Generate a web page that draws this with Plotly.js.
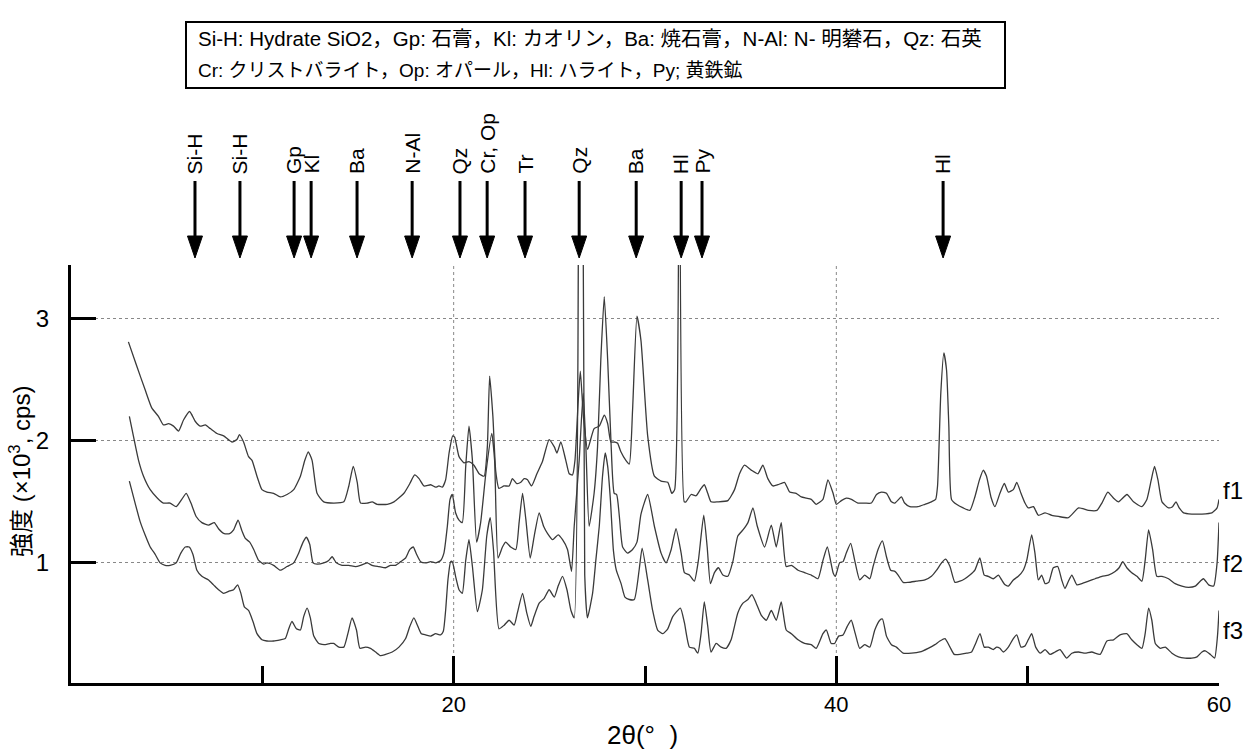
<!DOCTYPE html>
<html><head><meta charset="utf-8">
<script src="https://cdn.plot.ly/plotly-3.0.1.min.js"></script>
<style>html,body{margin:0;padding:0;background:#fff;} #chart{width:1258px;height:751px;}</style>
</head><body><div id="chart"></div>
<script>
// ---- data: [2θ, intensity (×10^3 cps)] ----
const f1 = [[3.0,2.81],[3.44,2.61],[3.87,2.42],[4.22,2.27],[4.57,2.20],[4.83,2.13],[5.10,2.14],[5.36,2.12],[5.62,2.08],[5.88,2.17],[6.20,2.24],[6.49,2.16],[6.75,2.12],[7.02,2.13],[7.28,2.10],[7.63,2.06],[7.98,2.04],[8.41,1.99],[8.67,2.01],[8.80,2.05],[9.02,1.99],[9.28,1.87],[9.46,1.84],[9.72,1.71],[9.98,1.60],
[10.24,1.58],[10.59,1.57],[10.94,1.54],[11.29,1.56],[11.64,1.60],[11.99,1.71],[12.22,1.84],[12.40,1.91],[12.60,1.84],[12.86,1.57],[13.21,1.50],[13.74,1.49],[14.26,1.50],[14.52,1.63],[14.75,1.79],[14.96,1.66],[15.13,1.49],[15.48,1.49],[15.74,1.50],[16.00,1.48],[16.53,1.48],[16.88,1.50],[17.40,1.57],[17.71,1.65],[17.96,1.72],[18.19,1.69],[18.45,1.63],[18.80,1.64],[19.06,1.62],[19.23,1.63],[19.41,1.62],[19.58,1.68],[19.76,1.90],[19.95,2.04],
[20.05,2.03],[20.28,1.87],[20.54,1.82],[20.80,1.83],[21.06,1.80],[21.33,1.73],[21.59,1.71],[21.76,1.95],[21.88,2.53],[22.05,2.20],[22.20,1.75],[22.37,1.61],[22.63,1.63],[22.90,1.63],[23.07,1.69],[23.30,1.65],[23.51,1.66],[23.68,1.69],[23.86,1.68],[24.07,1.63],[24.35,1.73],[24.64,1.83],[24.99,2.01],[25.26,1.95],[25.40,1.90],[25.60,1.99],[25.86,1.84],[26.04,1.73],[26.21,1.72],[26.34,1.84],[26.50,2.30],[26.62,2.57],[26.78,2.20],[27.00,1.93],[27.34,2.10],[27.61,2.12],[27.87,2.21],[28.05,2.14],[28.22,1.99],[28.43,1.99],[28.57,1.98],[28.74,1.91],[29.00,1.84],[29.18,1.81],[29.35,2.25],[29.58,3.02],[29.79,2.82],
[30.14,2.04],[30.49,1.71],[30.84,1.67],[31.19,1.66],[31.40,1.57],[31.55,1.60],[31.80,12.0],[32.05,1.50],[32.14,1.50],[32.41,1.56],[32.67,1.55],[32.93,1.61],[33.10,1.64],[33.28,1.57],[33.45,1.50],[33.80,1.50],[34.33,1.51],[34.68,1.60],[34.94,1.73],[35.20,1.80],[35.55,1.76],[35.90,1.73],[36.16,1.80],[36.42,1.69],[36.69,1.63],[36.95,1.64],[37.29,1.66],[37.56,1.58],[37.90,1.57],[38.17,1.54],[38.43,1.53],[38.69,1.52],[38.95,1.48],[39.30,1.52],[39.56,1.68],[39.83,1.57],
[40.00,1.48],[40.26,1.51],[40.52,1.53],[40.79,1.52],[41.13,1.49],[41.48,1.49],[41.83,1.49],[42.10,1.56],[42.36,1.58],[42.62,1.57],[42.88,1.50],[43.06,1.49],[43.40,1.54],[43.57,1.49],[43.84,1.46],[44.27,1.46],[44.63,1.48],[44.97,1.50],[45.19,1.52],[45.29,1.63],[45.46,2.39],[45.62,2.72],[45.76,2.58],[45.88,2.12],[46.02,1.52],[46.28,1.48],[46.63,1.45],[46.98,1.43],[47.24,1.54],[47.48,1.68],[47.68,1.76],[47.85,1.71],[48.08,1.54],[48.29,1.46],[48.55,1.57],[48.78,1.65],[48.99,1.58],[49.25,1.60],[49.43,1.66],[49.65,1.57],[49.86,1.49],
[50.03,1.45],[50.30,1.46],[50.56,1.39],[50.91,1.41],[51.26,1.39],[51.61,1.38],[52.13,1.37],[52.66,1.45],[53.18,1.43],[53.62,1.43],[53.88,1.49],[54.19,1.58],[54.49,1.53],[54.75,1.50],[55.19,1.56],[55.53,1.50],[55.97,1.46],[56.23,1.52],[56.46,1.68],[56.63,1.79],[56.81,1.68],[57.02,1.50],[57.36,1.45],[57.57,1.46],[57.75,1.50],[57.92,1.45],[58.15,1.41],[58.58,1.40],[59.11,1.40],[59.63,1.41],[59.90,1.45],[60.00,1.52]];

const f2 = [[3.05,2.20],[3.26,2.04],[3.53,1.84],[3.79,1.71],[4.14,1.60],[4.52,1.53],[4.83,1.49],[5.18,1.49],[5.50,1.46],[5.79,1.52],[6.02,1.57],[6.27,1.49],[6.54,1.38],[6.84,1.33],[7.19,1.31],[7.49,1.33],[7.71,1.28],[8.01,1.24],[8.29,1.24],[8.50,1.27],[8.73,1.35],[8.94,1.26],[9.11,1.20],[9.34,1.17],[9.55,1.11],[9.81,1.02],
[10.07,0.99],[10.24,1.00],[10.59,0.98],[10.94,0.94],[11.29,0.97],[11.64,1.00],[11.90,1.08],[12.13,1.17],[12.30,1.21],[12.48,1.15],[12.65,1.00],[12.86,0.99],[13.21,1.00],[13.47,1.02],[13.65,1.05],[13.87,1.00],[14.17,0.98],[14.52,0.98],[14.87,0.97],[15.13,0.98],[15.48,1.00],[15.74,0.98],[16.09,0.97],[16.44,0.96],[16.70,0.98],[16.96,0.98],[17.23,1.01],[17.49,1.04],[17.71,1.11],[17.89,1.13],[18.06,1.07],[18.27,1.01],[18.53,1.00],[18.80,1.01],[19.06,1.00],[19.32,1.02],[19.49,1.08],[19.67,1.30],[19.81,1.52],[19.93,1.56],
[20.10,1.41],[20.28,1.35],[20.45,1.33],[20.63,1.79],[20.80,2.12],[20.98,1.84],[21.20,1.17],[21.41,1.33],[21.68,1.73],[21.99,2.06],[22.14,1.84],[22.32,1.04],[22.55,1.13],[22.72,1.17],[22.98,1.13],[23.25,1.11],[23.42,1.33],[23.60,1.57],[23.77,1.36],[24.00,1.04],[24.21,1.22],[24.47,1.41],[24.70,1.30],[24.91,1.24],[25.17,1.19],[25.46,1.23],[25.69,1.19],[25.95,1.11],[26.16,0.93],[26.30,1.30],[26.56,1.84],[26.77,2.39],[26.91,1.95],[27.08,1.30],[27.34,1.57],[27.52,1.95],[27.69,2.66],[27.87,3.18],[28.05,2.66],[28.22,2.00],[28.39,1.57],[28.52,1.56],[28.66,1.38],[28.83,1.13],[29.09,1.08],[29.35,1.11],[29.58,1.17],[29.79,1.40],
[30.14,1.56],[30.49,1.30],[30.84,1.08],[31.10,1.00],[31.37,1.11],[31.62,1.28],[31.89,1.08],[32.06,0.92],[32.32,0.90],[32.58,0.85],[32.79,1.02],[33.07,1.39],[33.25,1.13],[33.42,0.83],[33.63,0.92],[33.84,0.96],[34.07,0.90],[34.33,0.89],[34.59,1.01],[34.85,1.22],[35.12,1.27],[35.38,1.33],[35.64,1.45],[35.87,1.30],[36.25,1.13],[36.60,1.31],[36.86,1.13],[37.12,1.33],[37.38,0.97],[37.65,0.98],[38.00,0.94],[38.34,0.92],[38.69,0.90],[39.04,0.87],[39.30,1.02],[39.53,1.13],[39.83,0.92],
[39.95,0.89],[40.17,1.00],[40.35,1.01],[40.52,1.08],[40.75,1.16],[40.96,1.02],[41.22,0.86],[41.48,0.90],[41.75,0.87],[41.92,0.97],[42.18,1.11],[42.41,1.18],[42.62,1.05],[42.84,0.94],[43.06,0.93],[43.23,0.90],[43.49,0.84],[43.76,0.84],[44.19,0.85],[44.63,0.86],[44.97,0.89],[45.24,0.94],[45.50,1.00],[45.71,1.03],[45.94,0.97],[46.20,0.84],[46.46,0.85],[46.72,0.87],[46.98,0.90],[47.24,0.94],[47.50,1.04],[47.73,0.90],[47.94,0.89],[48.20,0.87],[48.47,0.90],[48.64,0.86],[48.82,0.82],[48.99,0.81],[49.25,0.86],[49.51,0.89],[49.77,0.94],[49.95,1.02],
[50.21,1.23],[50.38,1.08],[50.56,0.86],[50.73,0.90],[50.91,0.83],[51.10,0.84],[51.34,0.96],[51.57,0.97],[51.78,0.86],[51.95,0.79],[52.13,0.85],[52.31,0.90],[52.57,0.82],[52.83,0.83],[53.18,0.85],[53.53,0.87],[53.88,0.89],[54.22,0.90],[54.57,0.93],[54.78,0.96],[54.97,1.01],[55.18,0.96],[55.44,0.92],[55.71,0.89],[55.97,0.85],[56.14,1.02],[56.32,1.27],[56.53,1.11],[56.75,0.89],[57.02,0.89],[57.36,0.87],[57.71,0.83],[58.06,0.81],[58.41,0.80],[58.76,0.81],[59.02,0.85],[59.19,0.87],[59.46,0.82],[59.72,0.81],[59.90,1.00],[60.00,1.33]];

const f3 = [[3.05,1.67],[3.35,1.49],[3.61,1.34],[3.87,1.23],[4.14,1.13],[4.40,1.07],[4.66,1.00],[4.92,0.98],[5.18,0.98],[5.50,1.00],[5.74,1.08],[5.97,1.13],[6.18,1.13],[6.37,1.07],[6.58,0.94],[6.84,0.89],[7.19,0.86],[7.45,0.82],[7.71,0.78],[7.98,0.75],[8.29,0.77],[8.50,0.78],[8.71,0.82],[8.88,0.75],[9.06,0.64],[9.28,0.61],[9.51,0.52],[9.72,0.42],[9.98,0.37],
[10.24,0.36],[10.59,0.36],[10.94,0.37],[11.20,0.38],[11.38,0.46],[11.55,0.52],[11.78,0.46],[11.99,0.45],[12.16,0.56],[12.34,0.63],[12.51,0.55],[12.69,0.40],[12.95,0.34],[13.30,0.33],[13.56,0.34],[13.73,0.34],[14.00,0.31],[14.26,0.31],[14.47,0.42],[14.69,0.55],[14.92,0.45],[15.10,0.30],[15.39,0.31],[15.65,0.30],[15.92,0.27],[16.18,0.24],[16.44,0.25],[16.79,0.27],[17.14,0.31],[17.49,0.38],[17.71,0.48],[17.92,0.55],[18.13,0.48],[18.31,0.42],[18.53,0.41],[18.80,0.40],[19.06,0.42],[19.32,0.41],[19.46,0.44],[19.58,0.61],[19.70,0.86],[19.84,1.01],[19.93,1.01],
[20.10,0.89],[20.28,0.78],[20.45,0.75],[20.63,1.02],[20.80,1.19],[20.98,0.97],[21.24,0.60],[21.50,0.78],[21.73,1.22],[21.91,1.37],[22.08,1.11],[22.37,0.46],[22.64,0.49],[22.90,0.53],[23.16,0.49],[23.33,0.59],[23.60,0.75],[23.82,0.59],[24.03,0.48],[24.20,0.56],[24.47,0.67],[24.73,0.71],[24.99,0.78],[25.26,0.72],[25.46,0.81],[25.69,0.89],[25.92,0.78],[26.13,0.61],[26.30,0.55],[26.57,12.0],[26.85,0.90],[26.99,0.55],[27.26,0.75],[27.43,1.02],[27.61,1.30],[27.78,1.71],[27.92,1.90],[28.05,1.79],[28.19,1.52],[28.35,1.10],[28.50,0.94],[28.75,0.83],[28.95,0.72],[29.18,0.70],[29.44,0.70],[29.70,0.95],[29.85,1.12],
[30.14,0.86],[30.40,0.61],[30.66,0.45],[30.93,0.42],[31.19,0.46],[31.45,0.56],[31.85,0.63],[32.06,0.51],[32.32,0.31],[32.58,0.30],[32.76,0.26],[32.93,0.42],[33.10,0.68],[33.28,0.48],[33.45,0.27],[33.72,0.34],[33.98,0.31],[34.24,0.30],[34.50,0.37],[34.85,0.59],[35.12,0.67],[35.38,0.70],[35.59,0.74],[35.81,0.67],[36.08,0.57],[36.34,0.53],[36.60,0.61],[36.86,0.53],[37.12,0.68],[37.38,0.45],[37.65,0.42],[38.00,0.37],[38.34,0.34],[38.69,0.33],[38.95,0.30],[39.30,0.42],[39.48,0.45],[39.73,0.34],[39.91,0.34],
[40.12,0.40],[40.35,0.41],[40.57,0.48],[40.78,0.53],[40.99,0.42],[41.22,0.30],[41.48,0.33],[41.75,0.31],[42.01,0.45],[42.27,0.53],[42.41,0.54],[42.62,0.40],[42.88,0.33],[43.14,0.31],[43.49,0.26],[43.93,0.26],[44.37,0.27],[44.80,0.30],[45.15,0.33],[45.41,0.36],[45.68,0.38],[45.94,0.31],[46.16,0.25],[46.46,0.25],[46.81,0.26],[47.07,0.27],[47.28,0.34],[47.51,0.42],[47.73,0.31],[47.94,0.31],[48.20,0.29],[48.38,0.31],[48.55,0.30],[48.73,0.27],[48.99,0.31],[49.25,0.38],[49.43,0.41],[49.65,0.31],[49.86,0.32],
[50.03,0.37],[50.21,0.42],[50.42,0.31],[50.65,0.26],[50.91,0.29],[51.17,0.25],[51.43,0.27],[51.69,0.29],[52.04,0.22],[52.31,0.26],[52.66,0.27],[53.00,0.26],[53.35,0.27],[53.79,0.25],[54.14,0.36],[54.49,0.37],[54.83,0.41],[55.18,0.42],[55.44,0.37],[55.71,0.33],[55.97,0.30],[56.14,0.42],[56.32,0.63],[56.49,0.53],[56.67,0.34],[56.93,0.30],[57.19,0.31],[57.54,0.26],[57.88,0.23],[58.23,0.22],[58.58,0.22],[58.85,0.23],[59.11,0.27],[59.28,0.28],[59.55,0.25],[59.77,0.22],[59.92,0.40],[60.00,0.61]];

const seriesNames = ['f1', 'f2', 'f3'];
const peakX = [6.48, 8.83, 11.66, 12.55, 14.95, 17.83, 20.33, 21.75, 23.73, 26.56, 29.54, 31.89, 32.98, 45.58];
const peakLabels = ['Si-H', 'Si-H', 'Gp', 'Kl', 'Ba', 'N-Al', 'Qz', 'Cr, Op', 'Tr', 'Qz', 'Ba', 'Hl', 'Py', 'Hl'];
const keyLines = ['Si-H: Hydrate SiO2，Gp: 石膏，Kl: カオリン，Ba: 焼石膏，N-Al: N- 明礬石，Qz: 石英',
                  'Cr: クリストバライト，Op: オパール，Hl: ハライト，Py; 黄鉄鉱'];
const xTickVals = [20, 40, 60];
const xMinorVals = [10, 30, 50];
const xGridVals = [20, 40];
const yTickVals = [1, 2, 3];
const xRange = [0, 60];
const yRange = [0.016, 3.44];

// ---- build ----
const FONT = 'Liberation Sans, Arial, Noto Sans CJK JP, sans-serif';
const series = [f1, f2, f3];
const traces = series.map((s, i) => ({
  type: 'scatter', mode: 'lines', name: seriesNames[i],
  x: s.map(p => p[0]), y: s.map(p => p[1]),
  line: {color: '#3a3a3a', width: 1.3, shape: 'spline', smoothing: 0.5},
  hoverinfo: 'skip'
}));

const toPaperX = v => (v - xRange[0]) / (xRange[1] - xRange[0]);
const plotTop = 265, plotBottom = 683, plotH = plotBottom - plotTop;
const pyToPaper = py => (plotBottom - py) / plotH;
const pxToPaper = px => (px - 71) / 1148;

const shapes = [];
// vertical dotted grid
xGridVals.forEach(v => shapes.push({type: 'line', xref: 'x', yref: 'paper', x0: v, x1: v, y0: 0, y1: 1,
  line: {color: '#888', width: 1, dash: 'dot'}, layer: 'below'}));
// arrows
const hw = 7.5 / 1148;
peakX.forEach(v => {
  const p = toPaperX(v);
  shapes.push({type: 'line', xref: 'paper', yref: 'paper', x0: p, x1: p, y0: pyToPaper(181), y1: pyToPaper(238),
    line: {color: '#000', width: 3}});
  shapes.push({type: 'path', xref: 'paper', yref: 'paper',
    path: `M ${p - hw} ${pyToPaper(236)} L ${p + hw} ${pyToPaper(236)} L ${p} ${pyToPaper(258)} Z`,
    fillcolor: '#000', line: {color: '#000', width: 1}});
});
// key box
shapes.push({type: 'rect', xref: 'paper', yref: 'paper', x0: pxToPaper(186), x1: pxToPaper(1005),
  y0: pyToPaper(88), y1: pyToPaper(22), line: {color: '#000', width: 2}, fillcolor: 'rgba(0,0,0,0)'});

const annotations = [];
peakLabels.forEach((t, i) => annotations.push({
  x: peakX[i], xref: 'x', y: pyToPaper(176), yref: 'paper', text: t, textangle: -90,
  showarrow: false, xanchor: 'center', yanchor: 'bottom', font: {family: FONT, size: 21, color: '#000'}
}));
const keySizes = [20.5, 19];
keyLines.forEach((t, i) => annotations.push({
  x: pxToPaper(196), xref: 'paper', y: pyToPaper(i === 0 ? 38 : 70), yref: 'paper', text: t,
  showarrow: false, xanchor: 'left', yanchor: 'middle', font: {family: FONT, size: keySizes[i], color: '#000'}
}));
const labelY = [490, 563, 630];
seriesNames.forEach((n, i) => annotations.push({
  x: pxToPaper(1221), xref: 'paper', y: pyToPaper(labelY[i]), yref: 'paper', text: n,
  showarrow: false, xanchor: 'left', yanchor: 'middle', font: {family: FONT, size: 24, color: '#000'}
}));
annotations.push({x: pxToPaper(642), xref: 'paper', y: pyToPaper(735), yref: 'paper',
  text: '2θ(°\u00a0\u00a0)', showarrow: false, xanchor: 'center', yanchor: 'middle',
  font: {family: FONT, size: 26, color: '#000'}});
annotations.push({x: pxToPaper(20), xref: 'paper', y: pyToPaper(472), yref: 'paper',
  text: '強度 (×10<sup>3</sup>, cps)', textangle: -90, showarrow: false, xanchor: 'center', yanchor: 'middle',
  font: {family: FONT, size: 24, color: '#000'}});

const layout = {
  width: 1258, height: 751,
  margin: {l: 71, r: 39, t: plotTop, b: 751 - plotBottom, pad: 0},
  paper_bgcolor: '#fff', plot_bgcolor: '#fff', showlegend: false,
  font: {family: FONT, color: '#000'},
  xaxis: {range: xRange, showline: true, linecolor: '#000', linewidth: 3, ticks: 'inside', ticklen: 27, tickwidth: 3,
    tickcolor: '#000', tickmode: 'array', tickvals: xTickVals, ticktext: xTickVals.map(String),
    tickfont: {family: FONT, size: 22, color: '#000'}, showgrid: false, zeroline: false,
    minor: {tickmode: 'array', tickvals: xMinorVals, ticks: 'inside', ticklen: 17, tickwidth: 3, tickcolor: '#000', showgrid: false},
    fixedrange: true},
  yaxis: {range: yRange, showline: true, linecolor: '#000', linewidth: 3, ticks: 'inside', ticklen: 25, tickwidth: 3,
    tickcolor: '#000', tickmode: 'array', tickvals: yTickVals, ticktext: yTickVals.map(String),
    tickfont: {family: FONT, size: 24, color: '#000'}, ticklabelstandoff: 14,
    showgrid: true, gridcolor: '#888', gridwidth: 1, griddash: 'dot', zeroline: false, fixedrange: true},
  shapes: shapes, annotations: annotations
};

Plotly.newPlot('chart', traces, layout, {displayModeBar: false, staticPlot: true});
</script>
</body></html>
